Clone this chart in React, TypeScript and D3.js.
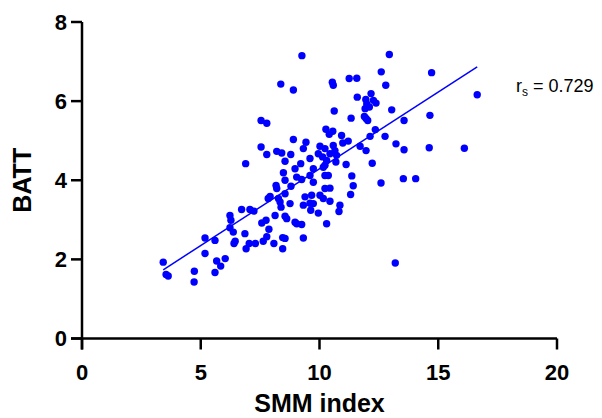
import React from "react";
import * as d3 from "d3";

const smmIndex = [
  3.42, 3.54, 3.63, 4.73, 4.72, 5.18, 5.18, 5.6, 5.6, 5.67, 5.84, 6.03, 6.23, 6.27, 6.23, 6.37, 6.45, 6.4,
  6.72, 7.07, 7.24, 6.86, 7.04, 6.91, 7.3, 7.57, 7.75, 7.87, 7.78, 7.63, 8.08, 8.45, 8.55, 8.45, 8.17, 8.2,
  8.55, 8.8, 8.55, 7.92, 7.84, 8.27, 8.34, 8.76, 8.38, 8.13, 8.55, 8.62, 8.97, 9.04,
  9.26, 8.37, 8.9, 7.54, 7.78, 8.9, 7.54, 7.78, 8.2, 8.41, 8.79, 8.55, 6.89, 8.97, 8.48, 9.04, 9.21,
  12.94, 14.72, 12.6, 10.54, 10.58, 11.25, 11.57, 12.79, 11.59, 12.17, 11.95, 11.99, 12.27, 12.38, 11.92,
  12.1, 10.62, 11.33, 11.89, 11.96, 12.03, 13.04, 13.56, 14.65, 10.27, 10.56, 10.41, 12.35, 12.13, 12.76,
  13.22, 13.56, 14.62, 9.43, 9.32, 10.02, 10.23, 10.58, 10.65, 10.93, 11.21, 10.98, 11.71, 11.96, 9.95,
  10.13, 10.44, 10.72, 9.6, 10.3, 10.23, 10.69, 11.12, 12.22, 9.74, 10.16, 9.6, 10.23, 10.37, 11.36, 9.74,
  9.25, 10.23, 10.44, 11.42, 12.59, 13.53, 14.05,
  10.02, 9.39, 9.67, 11.31, 10.16, 10.44, 9.32, 9.6, 9.74, 9.63, 9.95, 10.86, 10.82, 9.25, 10.3, 9.32, 13.19,
  16.64, 16.1,
];

const batt = [
  1.93, 1.62, 1.58, 1.7, 1.43, 2.15, 2.54, 2.48, 1.67, 1.96, 1.83, 2.02, 3.11, 2.99, 2.8, 2.69, 2.46, 2.4,
  3.26, 3.26, 3.22, 2.65, 2.4, 2.27, 2.4, 2.92, 2.99, 2.76, 2.57, 2.46, 2.4, 2.55, 2.53, 2.27, 3.87, 3.79,
  4.0, 3.85, 3.66, 3.59, 3.54, 3.54, 3.45, 3.41, 3.32, 3.11, 3.09, 3.03, 2.94, 2.9,
  7.15, 6.43, 6.28, 5.51, 5.44, 5.03, 4.84, 4.65, 4.73, 4.69, 4.65, 4.48, 4.42, 4.29, 4.19, 4.08, 4.42,
  7.18, 6.72, 6.74, 6.48, 6.4, 6.57, 6.58, 6.4, 6.1, 6.19, 6.04, 5.93, 6.02, 5.95, 5.81,
  5.85, 5.75, 5.57, 5.61, 5.56, 5.51, 5.78, 5.51, 5.64, 5.29, 5.24, 5.16, 5.28, 5.11, 5.11,
  4.92, 4.77, 4.82, 4.96, 4.8, 4.86, 4.8, 4.88, 4.75, 5.13, 4.99, 4.94, 4.86, 4.75, 4.67,
  4.59, 4.67, 4.63, 4.55, 4.5, 4.38, 4.46, 4.4, 4.43, 4.29, 4.33, 4.12, 4.12, 4.12, 4.11, 3.95,
  4.02, 3.79, 3.8, 3.86, 3.93, 4.04, 4.04,
  3.62, 3.58, 3.62, 3.64, 3.54, 3.47, 3.37, 3.42, 3.41, 3.24, 3.17, 3.37, 3.21, 2.88, 2.9, 2.54, 1.91,
  6.16, 4.81,
];

const xTicks = [0, 5, 10, 15, 20];
const yTicks = [0, 2, 4, 6, 8];
const fitSlope = 0.388;
const fitIntercept = 0.41;
const annotation = "0.729";

const W = 602;
const H = 418;
const FONT = "Arial, 'Liberation Sans', Helvetica, sans-serif";

export default function App() {
  const x = d3.scaleLinear().domain([0, 20]).range([82, 557]);
  const y = d3.scaleLinear().domain([0, 8]).range([338.5, 22]);
  const tick = 11;
  const pts = smmIndex.map((v, i) => [v, batt[i]] as [number, number]);
  const xMin = d3.min(smmIndex) as number;
  const xMax = d3.max(smmIndex) as number;
  const fitLine = d3.line<number>().x((d) => x(d)).y((d) => y(fitIntercept + fitSlope * d));

  return (
    <svg
      width={W}
      height={H}
      style={{ position: "absolute", left: 0, top: 0, background: "#fff" }}
      fontFamily={FONT}
    >
      {/* axes */}
      <g stroke="#000" strokeWidth={2.5} fill="none">
        <line x1={x(0) - tick} x2={x(20)} y1={y(0)} y2={y(0)} />
        <line x1={x(0)} x2={x(0)} y1={y(0) + tick} y2={y(8)} />
        {xTicks.map((t) => (
          <line key={"xt" + t} x1={x(t)} x2={x(t)} y1={y(0)} y2={y(0) + tick} />
        ))}
        {yTicks.map((t) => (
          <line key={"yt" + t} x1={x(0) - tick} x2={x(0)} y1={y(t)} y2={y(t)} />
        ))}
      </g>
      {xTicks.map((t) => (
        <text
          key={"xl" + t}
          x={x(t)}
          y={y(0) + 41}
          textAnchor="middle"
          fontSize={22}
          fontWeight="bold"
          fill="#000"
        >
          {t}
        </text>
      ))}
      {yTicks.map((t) => (
        <text
          key={"yl" + t}
          x={x(0) - tick - 4}
          y={y(t)}
          dy="0.36em"
          textAnchor="end"
          fontSize={22}
          fontWeight="bold"
          fill="#000"
        >
          {t}
        </text>
      ))}
      <text x={x(10)} y={412} textAnchor="middle" fontSize={25} fontWeight="bold" fill="#000">
        SMM index
      </text>
      <text
        transform={`translate(${31},${y(4)}) rotate(-90)`}
        textAnchor="middle"
        fontSize={25}
        fontWeight="bold"
        fill="#000"
      >
        BATT
      </text>
      {/* fit line */}
      <path d={fitLine([xMin, xMax]) || ""} stroke="#0000ff" strokeWidth={1.5} fill="none" />
      {/* points */}
      <g fill="#0000ff">
        {pts.map(([a, b], i) => (
          <circle key={i} cx={x(a)} cy={y(b)} r={3.7} />
        ))}
      </g>
      <text x={516} y={92} fontSize={18} fill="#000">
        r<tspan fontSize={12} dy={4}>s</tspan>
        <tspan dy={-4}> = {annotation}</tspan>
      </text>
    </svg>
  );
}
